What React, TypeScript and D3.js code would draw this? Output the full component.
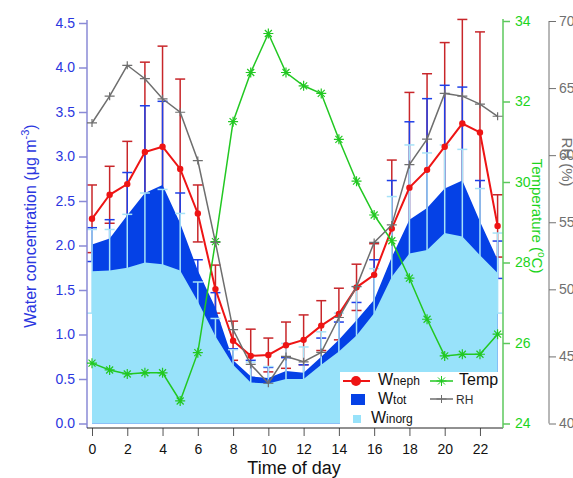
import React, { useEffect, useRef } from 'react'
import * as d3 from 'd3'

const hours = [0, 1, 2, 3, 4, 5, 6, 7, 8, 9, 10, 11, 12, 13, 14, 15, 16, 17, 18, 19, 20, 21, 22, 23]
const hourTicks = [0, 2, 4, 6, 8, 10, 12, 14, 16, 18, 20, 22]

const wNeph = [2.30, 2.57, 2.69, 3.05, 3.11, 2.86, 2.36, 1.51, 0.93, 0.76, 0.77, 0.88, 0.94, 1.10, 1.23, 1.53, 1.67, 2.19, 2.65, 2.85, 3.11, 3.37, 3.27, 2.22]
const wNephErr = [0.38, 0.32, 0.48, 1.01, 1.13, 1.01, 0.32, 0.27, 0.22, 0.30, 0.19, 0.26, 0.28, 0.28, 0.29, 0.26, 0.35, 0.77, 1.07, 1.08, 1.17, 1.17, 1.13, 0.35]

const wTot = [2.01, 2.08, 2.34, 2.59, 2.68, 2.25, 1.72, 1.30, 0.71, 0.53, 0.51, 0.59, 0.57, 0.75, 0.94, 1.16, 1.39, 1.87, 2.29, 2.42, 2.64, 2.73, 2.27, 1.84]
const wTotErr = [0.19, 0.21, 0.48, 0.98, 0.94, 0.34, 0.12, 0.17, 0.13, 0.18, 0.12, 0.15, 0.09, 0.21, 0.20, 0.20, 0.45, 0.86, 1.10, 1.23, 1.16, 1.05, 0.46, 0.21]

const wInorg = [1.71, 1.72, 1.75, 1.81, 1.79, 1.72, 1.37, 0.98, 0.66, 0.46, 0.45, 0.50, 0.50, 0.66, 0.81, 0.99, 1.24, 1.65, 1.91, 1.95, 2.14, 2.10, 1.89, 1.69]
const wInorgErr = [0.47, 0.46, 0.60, 0.78, 0.84, 0.64, 0.22, 0.20, 0.17, 0.23, 0.19, 0.40, 0.36, 0.37, 0.43, 0.55, 0.50, 0.90, 1.22, 1.09, 0.99, 0.98, 0.75, 0.45]

const temp = [25.50, 25.33, 25.23, 25.26, 25.26, 24.56, 25.76, 28.52, 31.50, 32.72, 33.69, 32.72, 32.39, 32.20, 31.06, 30.02, 29.18, 28.54, 27.61, 26.59, 25.68, 25.72, 25.72, 26.22]
const rh = [62.4, 64.4, 66.7, 65.7, 64.2, 63.2, 59.6, 53.5, 47.0, 44.4, 43.0, 45.0, 44.6, 45.3, 47.9, 50.2, 53.5, 54.8, 59.3, 61.2, 64.6, 64.4, 63.8, 62.9]

const waterTicks = [0, 0.5, 1, 1.5, 2, 2.5, 3, 3.5, 4, 4.5]
const tempTicks = [24, 26, 28, 30, 32, 34]
const rhTicks = [40, 45, 50, 55, 60, 65, 70]

const FONT = 'Liberation Sans, Arial, sans-serif'
const STAR = 'M-5,0L5,0M0,-5L0,5M-3.5,-3.5L3.5,3.5M-3.5,3.5L3.5,-3.5'
const PLUS = 'M-5,0L5,0M0,-4L0,4'

export default function App() {
  const ref = useRef<SVGSVGElement>(null)

  useEffect(() => {
    const svg = d3.select(ref.current)
    svg.selectAll('*').remove()

    const x = d3.scaleLinear().domain([0, 23]).range([92, 497.6])
    const y = d3.scaleLinear().domain([0, 4.5]).range([423.5, 23])
    const yT = d3.scaleLinear().domain([24, 34]).range([423.5, 21])
    const yRH = d3.scaleLinear().domain([40, 70]).range([423.5, 21])

    const errBars = (vals, errs, color, width) => {
      const g = svg.append('g').attr('stroke', color).attr('stroke-width', width).attr('fill', 'none')
      hours.forEach((h, i) => {
        const cx = x(h)
        const top = y(vals[i] + errs[i])
        const bot = y(vals[i] - errs[i])
        g.append('line').attr('x1', cx).attr('x2', cx).attr('y1', top).attr('y2', bot)
        g.append('line').attr('x1', cx - 5).attr('x2', cx + 5).attr('y1', top).attr('y2', top)
        g.append('line').attr('x1', cx - 5).attr('x2', cx + 5).attr('y1', bot).attr('y2', bot)
      })
    }

    // error bars sit under the filled areas, like the original
    errBars(wNeph, wNephErr, '#c8262a', 1.5)
    errBars(wTot, wTotErr, '#1e3fe8', 1.5)

    const area = (vals) =>
      d3.area<number>().x((h) => x(h)).y0(y(0)).y1((h, i) => y(vals[i]))(hours)

    svg.append('path').attr('d', area(wTot)).attr('fill', '#0541e6')
    errBars(wInorg, wInorgErr, '#a6e2f8', 1.5)
    svg.append('path').attr('d', area(wInorg)).attr('fill', '#98e2fa')

    // axes
    const axisFont = (g, color) => {
      g.selectAll('text').attr('font-family', FONT).attr('font-size', 14).attr('fill', color)
      g.selectAll('line').attr('stroke', color)
      g.select('.domain').remove()
    }

    const gl = svg.append('g').attr('transform', 'translate(87,0)')
      .call(d3.axisLeft(y).tickValues(waterTicks).tickFormat(d3.format('.1f')).tickSize(8).tickPadding(4))
    axisFont(gl, '#2a36e0')
    gl.selectAll('line').attr('stroke', '#8a8ad6').attr('stroke-width', 1.5)
    svg.append('line').attr('x1', 87).attr('x2', 87).attr('y1', 20).attr('y2', 428)
      .attr('stroke', '#8a8ad6').attr('stroke-width', 1.5)

    const gb = svg.append('g').attr('transform', 'translate(0,428)')
      .call(d3.axisBottom(x).tickValues(hourTicks).tickFormat(d3.format('d')).tickSize(8).tickPadding(8))
    axisFont(gb, '#111')
    gb.selectAll('line').attr('stroke', '#555')
    svg.append('line').attr('x1', 87).attr('x2', 503).attr('y1', 428).attr('y2', 428).attr('stroke', '#222')

    const gt = svg.append('g').attr('transform', 'translate(503,0)')
      .call(d3.axisRight(yT).tickValues(tempTicks).tickSize(7).tickPadding(5))
    axisFont(gt, '#1cd41c')
    gt.selectAll('line').attr('stroke', '#5cc85c').attr('stroke-width', 1.5)
    svg.append('line').attr('x1', 503).attr('x2', 503).attr('y1', 19).attr('y2', 428)
      .attr('stroke', '#5cc85c').attr('stroke-width', 1.5)

    const gr = svg.append('g').attr('transform', 'translate(549,0)')
      .call(d3.axisRight(yRH).tickValues(rhTicks).tickSize(7).tickPadding(3))
    axisFont(gr, '#707070')
    svg.append('line').attr('x1', 549).attr('x2', 549).attr('y1', 21).attr('y2', 423.5).attr('stroke', '#707070')

    // axis titles
    const lt = svg.append('text').attr('transform', 'translate(36,226) rotate(-90)')
      .attr('text-anchor', 'middle').attr('font-family', FONT).attr('font-size', 16).attr('fill', '#2a36e0')
    lt.append('tspan').text('Water concentration (μg m')
    lt.append('tspan').attr('dy', -7).attr('font-size', 11).text('-3')
    lt.append('tspan').attr('dy', 7).text(')')

    const tt = svg.append('text').attr('transform', 'translate(532,216) rotate(90)')
      .attr('text-anchor', 'middle').attr('font-family', FONT).attr('font-size', 15).attr('fill', '#1cd41c')
    tt.append('tspan').text('Temperature (')
    tt.append('tspan').attr('dy', -6).attr('font-size', 10).text('o')
    tt.append('tspan').attr('dy', 6).text('C)')

    svg.append('text').attr('transform', 'translate(562,162) rotate(90)')
      .attr('text-anchor', 'middle').attr('font-family', FONT).attr('font-size', 15).attr('fill', '#707070')
      .text('RH (%)')

    svg.append('text').attr('x', 294).attr('y', 474).attr('text-anchor', 'middle')
      .attr('font-family', FONT).attr('font-size', 18).attr('fill', '#111').text('Time of day')

    // lines
    const lineOf = (scale, vals) => d3.line<number>().x((h) => x(h)).y((h, i) => scale(vals[i]))(hours)

    svg.append('path').attr('d', lineOf(y, wNeph)).attr('fill', 'none').attr('stroke', '#ee1414').attr('stroke-width', 2)
    svg.append('g').selectAll('circle').data(hours).enter().append('circle')
      .attr('cx', (h) => x(h)).attr('cy', (h, i) => y(wNeph[i])).attr('r', 3.2).attr('fill', '#ee1414')

    svg.append('path').attr('d', lineOf(yT, temp)).attr('fill', 'none').attr('stroke', '#22c822').attr('stroke-width', 1.5)
    svg.append('g').selectAll('path').data(hours).enter().append('path')
      .attr('d', STAR).attr('transform', (h, i) => `translate(${x(h)},${yT(temp[i])})`)
      .attr('stroke', '#22c822').attr('stroke-width', 1.2).attr('fill', 'none')

    svg.append('path').attr('d', lineOf(yRH, rh)).attr('fill', 'none').attr('stroke', '#6e6e6e').attr('stroke-width', 1.5)
    svg.append('g').selectAll('path').data(hours).enter().append('path')
      .attr('d', PLUS).attr('transform', (h, i) => `translate(${x(h)},${yRH(rh[i])})`)
      .attr('stroke', '#6e6e6e').attr('stroke-width', 1.2).attr('fill', 'none')

    // legend
    const lg = svg.append('g')
    lg.append('rect').attr('x', 340).attr('y', 372).attr('width', 161).attr('height', 55).attr('fill', '#fff')
    lg.append('line').attr('x1', 343).attr('x2', 370).attr('y1', 381).attr('y2', 381).attr('stroke', '#ee1414').attr('stroke-width', 2)
    lg.append('circle').attr('cx', 356).attr('cy', 381).attr('r', 5).attr('fill', '#ee1414')
    lg.append('rect').attr('x', 351).attr('y', 394).attr('width', 14).attr('height', 11).attr('fill', '#0541e6')
    lg.append('rect').attr('x', 353).attr('y', 415).attr('width', 8).attr('height', 8).attr('fill', '#98e2fa')
    lg.append('line').attr('x1', 430).attr('x2', 453).attr('y1', 381).attr('y2', 381).attr('stroke', '#22c822').attr('stroke-width', 1.5)
    lg.append('path').attr('d', STAR).attr('transform', 'translate(441.5,381)').attr('stroke', '#22c822').attr('fill', 'none')
    lg.append('line').attr('x1', 430).attr('x2', 453).attr('y1', 399).attr('y2', 399).attr('stroke', '#6e6e6e').attr('stroke-width', 1.5)
    lg.append('path').attr('d', PLUS).attr('transform', 'translate(441.5,399)').attr('stroke', '#6e6e6e').attr('fill', 'none')

    const wLabel = (xx, yy, sub) => {
      const t = lg.append('text').attr('x', xx).attr('y', yy).attr('font-family', FONT).attr('fill', '#111')
      t.append('tspan').attr('font-size', 16).text('W')
      t.append('tspan').attr('font-size', 12).text(sub)
    }
    wLabel(378, 385, 'neph')
    wLabel(378, 404, 'tot')
    wLabel(371, 423, 'inorg')
    lg.append('text').attr('x', 459).attr('y', 385).attr('font-family', FONT).attr('font-size', 16).attr('fill', '#111').text('Temp')
    lg.append('text').attr('x', 456).attr('y', 403.5).attr('font-family', FONT).attr('font-size', 12).attr('fill', '#333').text('RH')
  }, [])

  return (
    <svg ref={ref} width={573} height={478} style={{ position: 'absolute', left: 0, top: 0, background: '#fff' }} />
  )
}
